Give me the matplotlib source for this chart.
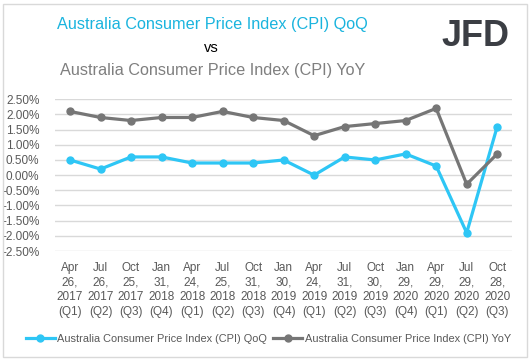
import matplotlib.pyplot as plt
from matplotlib.patches import Rectangle
from matplotlib.ticker import FuncFormatter

# ─── DATA ────────────────────────────────────────────────────────────────────
dates = ["Apr\n26,\n2017\n(Q1)", "Jul\n26,\n2017\n(Q2)", "Oct\n25,\n2017\n(Q3)",
         "Jan\n31,\n2018\n(Q4)", "Apr\n24,\n2018\n(Q1)", "Jul\n25,\n2018\n(Q2)",
         "Oct\n31,\n2018\n(Q3)", "Jan\n30,\n2019\n(Q4)", "Apr\n24,\n2019\n(Q1)",
         "Jul\n31,\n2019\n(Q2)", "Oct\n30,\n2019\n(Q3)", "Jan\n29,\n2020\n(Q4)",
         "Apr\n29,\n2020\n(Q1)", "Jul\n29,\n2020\n(Q2)", "Oct\n28,\n2020\n(Q3)"]
cpi_qoq = [0.5, 0.2, 0.6, 0.6, 0.4, 0.4, 0.4, 0.5, 0.0, 0.6, 0.5, 0.7, 0.3, -1.9, 1.6]
cpi_yoy = [2.1, 1.9, 1.8, 1.9, 1.9, 2.1, 1.9, 1.8, 1.3, 1.6, 1.7, 1.8, 2.2, -0.3, 0.7]
y_ticks = [2.5, 2.0, 1.5, 1.0, 0.5, 0.0, -0.5, -1.0, -1.5, -2.0, -2.5]

name_qoq = "Australia Consumer Price Index (CPI) QoQ"
name_yoy = "Australia Consumer Price Index (CPI) YoY"

# ─── STYLE ───────────────────────────────────────────────────────────────────
plt.rcParams['font.family'] = ['Liberation Sans', 'DejaVu Sans']
CYAN = "#2ec6f5"
CYAN_TITLE = "#1ab4de"
GREY = "#767676"
TXT = "#595959"

fig = plt.figure(figsize=(5.31, 3.63), dpi=100)
fig.patches.append(Rectangle((3 / 531, 1 - 357 / 363), 524 / 531, 353 / 363,
                             transform=fig.transFigure, fill=False,
                             edgecolor="#d9d9d9", linewidth=1))

ax = fig.add_axes([0.1031, 0.3085, 0.862, 0.418])
x = range(len(dates))
ax.plot(x, cpi_qoq, color=CYAN, lw=2.3, marker="o", ms=5, label=name_qoq, zorder=3)
ax.plot(x, cpi_yoy, color=GREY, lw=2.3, marker="o", ms=5, label=name_yoy, zorder=3)

ax.set_xlim(-0.5, len(dates) - 0.5)
ax.set_ylim(-2.5, 2.5)
ax.set_yticks(y_ticks)
ax.yaxis.set_major_formatter(FuncFormatter(lambda v, p: f"{v:.2f}%"))
ax.set_xticks(list(x))
ax.set_xticklabels(dates, linespacing=1.28)
ax.grid(axis="y", color="#d9d9d9", lw=1)
ax.set_axisbelow(True)
for s in ax.spines.values():
    s.set_visible(False)
ax.tick_params(axis="both", length=0, colors=TXT, labelsize=8.5)
ax.tick_params(axis="y", pad=11)
ax.tick_params(axis="x", pad=8)

fig.legend(loc="center", bbox_to_anchor=(0.505, 1 - 339 / 363), ncol=2,
           frameon=False, fontsize=7.9, handlelength=2.7, handletextpad=0.2,
           columnspacing=0.5, labelcolor=TXT)

# ─── TITLES ──────────────────────────────────────────────────────────────────
fig.text(212 / 531, 1 - 24 / 363, name_qoq, color=CYAN_TITLE, fontsize=11.7,
         ha="center", va="center")
fig.text(211 / 531, 1 - 48 / 363, "vs", color="black", fontsize=10.5,
         ha="center", va="center")
fig.text(213 / 531, 1 - 71 / 363, name_yoy, color="#7f7f7f", fontsize=11.7,
         ha="center", va="center")
fig.text(475 / 531, 1 - 37 / 363, "JFD", color="#3b3e44", fontsize=26,
         fontweight="bold", ha="center", va="center")

fig.savefig("out.png", dpi=100)
